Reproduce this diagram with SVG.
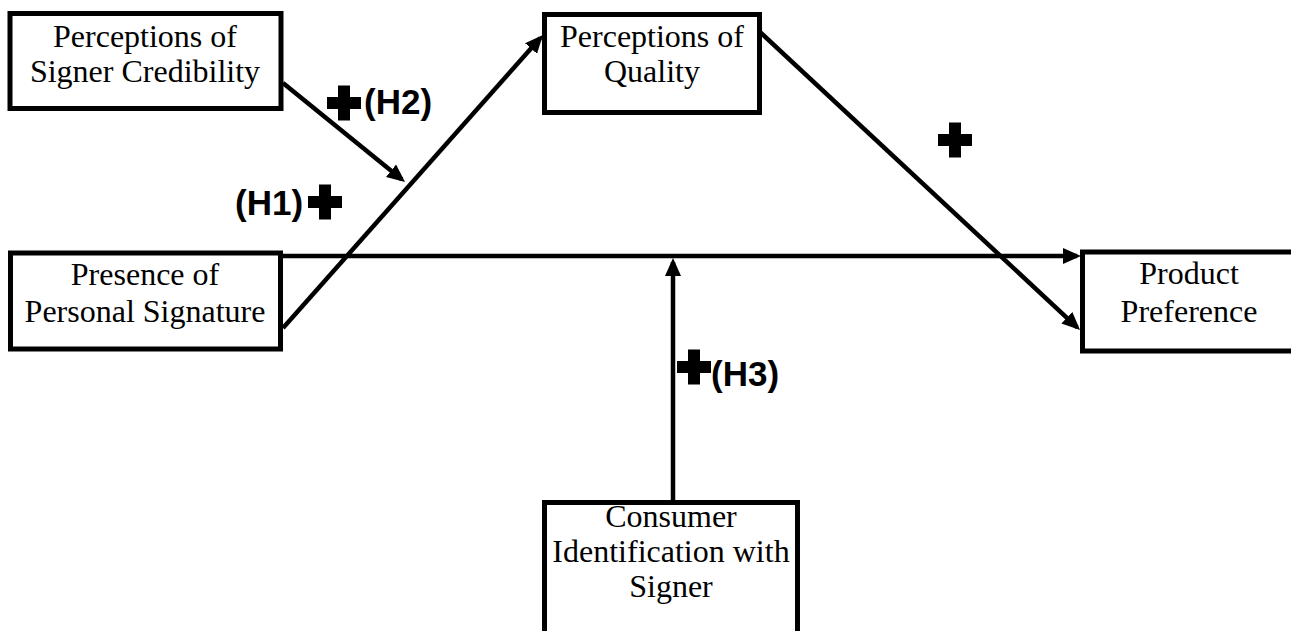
<svg xmlns="http://www.w3.org/2000/svg" xmlns:xlink="http://www.w3.org/1999/xlink" width="1291" height="631" viewBox="0 0 1291 631">
<style>
.box{fill:#fff;stroke:#000;stroke-width:5}
.t{font-family:"Liberation Serif","Times New Roman",serif;font-size:32px;fill:#000;text-anchor:middle}
.h{font-family:"Liberation Sans",Arial,sans-serif;font-size:35px;font-weight:bold;fill:#000}
.c{stroke:#000;stroke-width:4.5;fill:none;marker-end:url(#arr)}
</style>
<defs>
<marker id="arr" markerUnits="userSpaceOnUse" markerWidth="19" markerHeight="17" refX="14" refY="8" orient="auto">
<path d="M0,0 L18,8 L0,16 Z" fill="#000"/>
</marker>
<g id="plus"><rect x="-17" y="-6" width="34" height="12" fill="#000"/><rect x="-6" y="-17.5" width="12" height="35" fill="#000"/></g>
</defs>
<rect width="1291" height="631" fill="#fff"/>
<g id="connectors">
<line class="c" x1="283" y1="256" x2="1077" y2="256"/>
<line class="c" x1="673" y1="502" x2="673" y2="262"/>
<line class="c" x1="283" y1="83" x2="401.9" y2="179.5"/>
<line class="c" x1="283" y1="328" x2="540.3" y2="38"/>
<line class="c" x1="760" y1="32" x2="1077.1" y2="327.3"/>
</g>
<g id="node-credibility">
<rect class="box" x="10" y="13.5" width="271" height="95"/>
<text class="t" x="145" y="47">Perceptions of</text>
<text class="t" x="145" y="82">Signer Credibility</text>
</g>
<g id="node-quality">
<rect class="box" x="544.5" y="14.5" width="215" height="98"/>
<text class="t" x="652" y="47">Perceptions of</text>
<text class="t" x="652" y="82">Quality</text>
</g>
<g id="node-signature">
<rect class="box" x="10.5" y="253" width="270" height="96"/>
<text class="t" x="145" y="285">Presence of</text>
<text class="t" x="145" y="322">Personal Signature</text>
</g>
<g id="node-preference">
<rect class="box" x="1082.5" y="252" width="215" height="99"/>
<text class="t" x="1189" y="284">Product</text>
<text class="t" x="1189" y="322">Preference</text>
</g>
<g id="node-identification">
<rect class="box" x="544.5" y="502.5" width="253" height="140"/>
<text class="t" x="671" y="527">Consumer</text>
<text class="t" x="671" y="562">Identification with</text>
<text class="t" x="671" y="597">Signer</text>
</g>
<g id="labels">
<use xlink:href="#plus" x="344" y="103"/>
<text class="h" x="364" y="114">(H2)</text>
<use xlink:href="#plus" x="325" y="202"/>
<text class="h" x="235" y="215">(H1)</text>
<use xlink:href="#plus" x="694" y="367"/>
<text class="h" x="711" y="386">(H3)</text>
<use xlink:href="#plus" x="955" y="140"/>
</g>
</svg>
